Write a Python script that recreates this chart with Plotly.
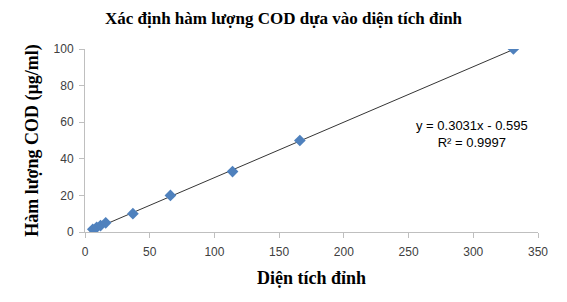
import plotly.graph_objects as go

area = [6, 9, 12, 16, 37, 66, 114, 166, 331]
cod = [1.5, 2.5, 3.5, 5, 10, 20, 33, 50, 100]
slope = 0.3031
intercept = -0.595
r2 = 0.9997
x_ticks = [0, 50, 100, 150, 200, 250, 300, 350]
y_ticks = [0, 20, 40, 60, 80, 100]

serif = "Liberation Serif"
sans = "Liberation Sans"

fig = go.Figure()
tx = [min(area), max(area)]
fig.add_trace(go.Scatter(x=tx, y=[slope * v + intercept for v in tx], mode="lines",
                         line=dict(color="#000000", width=0.8), showlegend=False, hoverinfo="skip"))
fig.add_trace(go.Scatter(x=area, y=cod, mode="markers",
                         marker=dict(symbol="diamond", size=9, color="#4F81BD",
                                     line=dict(width=0)), showlegend=False))

fig.add_annotation(x=299, y=53.5, xref="x", yref="y",
                   text=f"y = {slope}x - {abs(intercept)}<br>R² = {r2}",
                   showarrow=False, font=dict(family=sans, size=13, color="#000000"),
                   align="center")

fig.update_layout(
    width=567, height=302,
    margin=dict(l=85, r=29, t=49, b=70),
    paper_bgcolor="white", plot_bgcolor="white",
    title=dict(text="<b>Xác định hàm lượng COD dựa vào diện tích đỉnh</b>",
               x=0.5, xanchor="center", y=0.94, yanchor="middle",
               font=dict(family=serif, size=17, color="#000000")),
)
fig.update_xaxes(range=[0, 350], tickvals=x_ticks, showgrid=False, zeroline=False,
                 showline=True, linecolor="#BFBFBF", linewidth=1,
                 ticks="outside", ticklen=5, tickcolor="#BFBFBF", ticklabelstandoff=4,
                 tickfont=dict(family=sans, size=12, color="#404040"),
                 title=dict(text="<b>Diện tích đỉnh</b>", standoff=12,
                            font=dict(family=serif, size=18, color="#000000")))
fig.update_yaxes(range=[0, 100], tickvals=y_ticks, showgrid=False, zeroline=False,
                 showline=True, linecolor="#BFBFBF", linewidth=1,
                 ticks="outside", ticklen=5, tickcolor="#BFBFBF", ticklabelstandoff=3,
                 tickfont=dict(family=sans, size=12, color="#404040"),
                 title=dict(text="<b>Hàm lượng COD (µg/ml)</b>", standoff=10,
                            font=dict(family=serif, size=18, color="#000000")))

fig.write_html("out.html")
